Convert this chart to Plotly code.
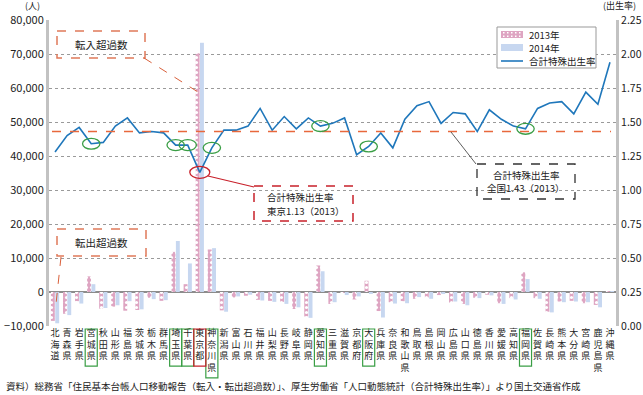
import plotly.graph_objects as go

prefectures = ["北海道", "青森県", "岩手県", "宮城県", "秋田県", "山形県", "福島県", "茨城県", "栃木県", "群馬県",
               "埼玉県", "千葉県", "東京都", "神奈川県", "新潟県", "富山県", "石川県", "福井県", "山梨県", "長野県",
               "岐阜県", "静岡県", "愛知県", "三重県", "滋賀県", "京都府", "大阪府", "兵庫県", "奈良県", "和歌山県",
               "鳥取県", "島根県", "岡山県", "広島県", "山口県", "徳島県", "香川県", "愛媛県", "高知県", "福岡県",
               "佐賀県", "長崎県", "熊本県", "大分県", "宮崎県", "鹿児島県", "沖縄県"]

net_migration_2013 = [-8500, -6400, -2700, 4600, -4900, -4300, -5500, -5300, -1700, -2600,
                      11800, 2300, 70200, 12500, -5400, -1600, -1100, -2300, -2600, -2900,
                      -5000, -7200, 7800, -3500, -200, -2200, 3300, -5600, -3000, -2700,
                      -2000, -1600, -900, -3100, -3500, -1700, -800, -3300, -1800, 5800,
                      -1800, -5800, -2800, -2600, -3300, -3800, 200]
net_migration_2014 = [-9200, -6800, -3400, 2300, -4700, -3900, -2700, -5100, -2100, -2400,
                      15000, 8400, 73300, 12900, -5800, -1300, -800, -2500, -2900, -3500,
                      -4500, -7600, 6100, -3000, -900, -1300, -400, -7500, -3400, -3300,
                      -1500, -2000, -600, -2800, -3900, -1800, -1000, -3500, -2200, 3800,
                      -2000, -6000, -3000, -2800, -3000, -4500, 100]
tfr_2013 = [1.28, 1.40, 1.46, 1.34, 1.35, 1.47, 1.53, 1.42, 1.43, 1.42,
            1.33, 1.33, 1.13, 1.31, 1.44, 1.44, 1.47, 1.60, 1.44, 1.54,
            1.45, 1.53, 1.47, 1.49, 1.53, 1.26, 1.32, 1.42, 1.31, 1.52,
            1.62, 1.65, 1.49, 1.57, 1.56, 1.43, 1.59, 1.52, 1.47, 1.45,
            1.60, 1.64, 1.65, 1.56, 1.72, 1.63, 1.94]
national_tfr = 1.43

series_names = ["2013年", "2014年", "合計特殊出生率"]

left_tick_vals = [-10000, 0, 10000, 20000, 30000, 40000, 50000, 60000, 70000, 80000]
left_tick_text = ["−10,000", "0", "10,000", "20,000", "30,000", "40,000", "50,000", "60,000", "70,000", "80,000"]
right_tick_vals = [0, 0.25, 0.5, 0.75, 1.0, 1.25, 1.5, 1.75, 2.0, 2.25]
right_tick_text = ["0.00", "0.25", "0.50", "0.75", "1.00", "1.25", "1.50", "1.75", "2.00", "2.25"]

highlight_green = ["宮城県", "埼玉県", "千葉県", "神奈川県", "愛知県", "大阪府", "福岡県"]
highlight_red = ["東京都"]

FONT = "Noto Sans CJK JP"
PINK = "#dea5c2"
BLUE = "#c7d7f0"
LINE = "#1f77bb"
W, H = 643, 395
L, R, T, B = 49, 27, 20, 69
PW, PH = W - L - R, H - T - B


def px(x):
    return (x - L) / PW


def py(y):
    return (H - B - y) / PH


def prect(x0, y0, x1, y1, **kw):
    return dict(type="rect", xref="paper", yref="paper", x0=px(x0), x1=px(x1), y0=py(y0), y1=py(y1), **kw)


def pline(x0, y0, x1, y1, **kw):
    return dict(type="line", xref="paper", yref="paper", x0=px(x0), x1=px(x1), y0=py(y0), y1=py(y1), **kw)


def ptext(x, y, text, size=10, xanchor="center", align="center"):
    return dict(xref="paper", yref="paper", x=px(x), y=py(y), text=text, showarrow=False,
                xanchor=xanchor, yanchor="middle", align=align,
                font=dict(size=size, color="#222", family=FONT))


vertical_labels = ["<br>".join(list(p)) for p in prefectures]

fig = go.Figure()
fig.add_trace(go.Bar(
    x=prefectures, y=net_migration_2013, name=series_names[0],
    marker=dict(color=PINK, line=dict(width=0),
                pattern=dict(shape=".", fgcolor="white", bgcolor=PINK, size=5, solidity=0.3, fillmode="replace")),
))
fig.add_trace(go.Bar(
    x=prefectures, y=net_migration_2014, name=series_names[1],
    marker=dict(color=BLUE, line=dict(width=0)),
))
fig.add_trace(go.Scatter(
    x=prefectures, y=tfr_2013, name=series_names[2], yaxis="y2", mode="lines",
    line=dict(color=LINE, width=1.6),
))

shapes = []
annotations = []

# national average dashed line
shapes.append(dict(type="line", xref="paper", yref="y2", x0=px(52), x1=px(611), y0=national_tfr, y1=national_tfr,
                   line=dict(color="#e8683c", width=1.5, dash="dash"), layer="above"))

# ellipses around highlighted TFR points
for name in highlight_green + highlight_red:
    i = prefectures.index(name)
    red = name in highlight_red
    dx = 0.83 if red else 0.72
    dy = 0.044 if red else 0.04
    shapes.append(dict(type="circle", xref="x", yref="y2", x0=i - dx, x1=i + dx,
                       y0=tfr_2013[i] - dy, y1=tfr_2013[i] + dy,
                       line=dict(color="#c8202a" if red else "#3a9e45", width=1.3)))

# boxes around highlighted tick labels
for name in highlight_green + highlight_red:
    i = prefectures.index(name)
    red = name in highlight_red
    n = len(name)
    shapes.append(dict(type="rect", xref="x", yref="paper", x0=i - 0.5, x1=i + 0.5,
                       y0=py(329), y1=py(331 + n * 11.7),
                       line=dict(color="#c8202a" if red else "#3a9e45", width=1.2)))

# 転入超過数 box
shapes.append(prect(57, 31, 145, 58, line=dict(color="#e07a5a", width=1.5, dash="dash")))
shapes.append(pline(144, 58, 198, 92, line=dict(color="#d9603b", width=1, dash="dash")))
annotations.append(ptext(101, 44.5, "転入超過数", size=10.5))

# 転出超過数 box
shapes.append(prect(57, 229, 146, 256, line=dict(color="#e07a5a", width=1.5, dash="dash")))
shapes.append(pline(61, 257, 56, 304, line=dict(color="#d9603b", width=1, dash="dash")))
annotations.append(ptext(101, 242.5, "転出超過数", size=10.5))

# Tokyo callout
shapes.append(prect(254, 186, 353, 221, line=dict(color="#c8202a", width=1.5, dash="dash")))
shapes.append(pline(208, 176, 254, 187, line=dict(color="#c8202a", width=1.2)))
annotations.append(ptext(265, 197.5, "合計特殊出生率", size=9.5, xanchor="left", align="left"))
annotations.append(ptext(265, 210.5, "東京1.13（2013）", size=9.5, xanchor="left", align="left"))

# National callout
shapes.append(prect(477, 164, 575, 199, line=dict(color="#333", width=1.3, dash="dash")))
shapes.append(pline(451, 132, 476, 164, line=dict(color="#333", width=0.8)))
annotations.append(ptext(526, 175, "合計特殊出生率", size=9.5))
annotations.append(ptext(526, 188, "全国1.43（2013）", size=9.5))

# axis unit labels
annotations.append(ptext(32, 5.5, "(人)", size=9))
annotations.append(ptext(619, 5.5, "(出生率)", size=9))

# source
annotations.append(ptext(4, 386,
                         "資料）総務省「住民基本台帳人口移動報告（転入・転出超過数）」、厚生労働省「人口動態統計（合計特殊出生率）」より国土交通省作成",
                         size=9.5, xanchor="left", align="left"))

# legend (drawn compactly to match the reference box)
shapes.append(prect(497, 27, 596, 68, line=dict(color="#999", width=1), fillcolor="white", layer="above"))
shapes.append(prect(501, 31, 523, 38, line=dict(width=0), fillcolor=PINK, layer="above"))
for dx in range(0, 20, 4):
    for dy in (0, 3.5):
        shapes.append(prect(503 + dx, 32 + dy, 504.5 + dx, 33.5 + dy, line=dict(width=0), fillcolor="white",
                            layer="above"))
shapes.append(prect(501, 44, 523, 51, line=dict(width=0), fillcolor=BLUE, layer="above"))
shapes.append(pline(501, 61, 523, 61, line=dict(color=LINE, width=1.6), layer="above"))
annotations.append(ptext(527, 34.5, series_names[0], size=9.5, xanchor="left", align="left"))
annotations.append(ptext(527, 47.5, series_names[1], size=9.5, xanchor="left", align="left"))
annotations.append(ptext(527, 61, series_names[2], size=9.5, xanchor="left", align="left"))

fig.update_layout(
    width=W, height=H,
    margin=dict(l=L, r=R, t=T, b=B, pad=0, autoexpand=False),
    paper_bgcolor="white", plot_bgcolor="white",
    font=dict(family=FONT, color="#222"),
    barmode="group", bargap=0.28, bargroupgap=0.1,
    showlegend=False,
    xaxis=dict(type="category", range=[-0.5, len(prefectures) - 0.5], tickmode="array",
               tickvals=prefectures, ticktext=vertical_labels, tickangle=0, automargin=False,
               tickfont=dict(size=9, family=FONT, color="#222"), showgrid=False, zeroline=False,
               showline=False, ticks=""),
    yaxis=dict(range=[-10000, 80000], tickmode="array", tickvals=left_tick_vals, ticktext=left_tick_text,
               showgrid=True, gridcolor="#9a9a9a", griddash="dot", gridwidth=1, automargin=False,
               zeroline=True, zerolinecolor="#8c8c8c", zerolinewidth=1.5,
               showline=True, linecolor="#c2c2c2", linewidth=3, ticks="",
               tickfont=dict(size=11, family=FONT, color="#222")),
    yaxis2=dict(range=[0, 2.25], overlaying="y", side="right", tickmode="array", automargin=False,
                tickvals=right_tick_vals, ticktext=right_tick_text, showgrid=False, zeroline=False,
                showline=True, linecolor="#c2c2c2", linewidth=3, ticks="",
                tickfont=dict(size=10.5, family=FONT, color="#222")),
    shapes=shapes, annotations=annotations,
)

fig.write_html("out.html", config={"displayModeBar": False},
               post_script="document.body.style.margin='0px';document.body.style.padding='0px';")
